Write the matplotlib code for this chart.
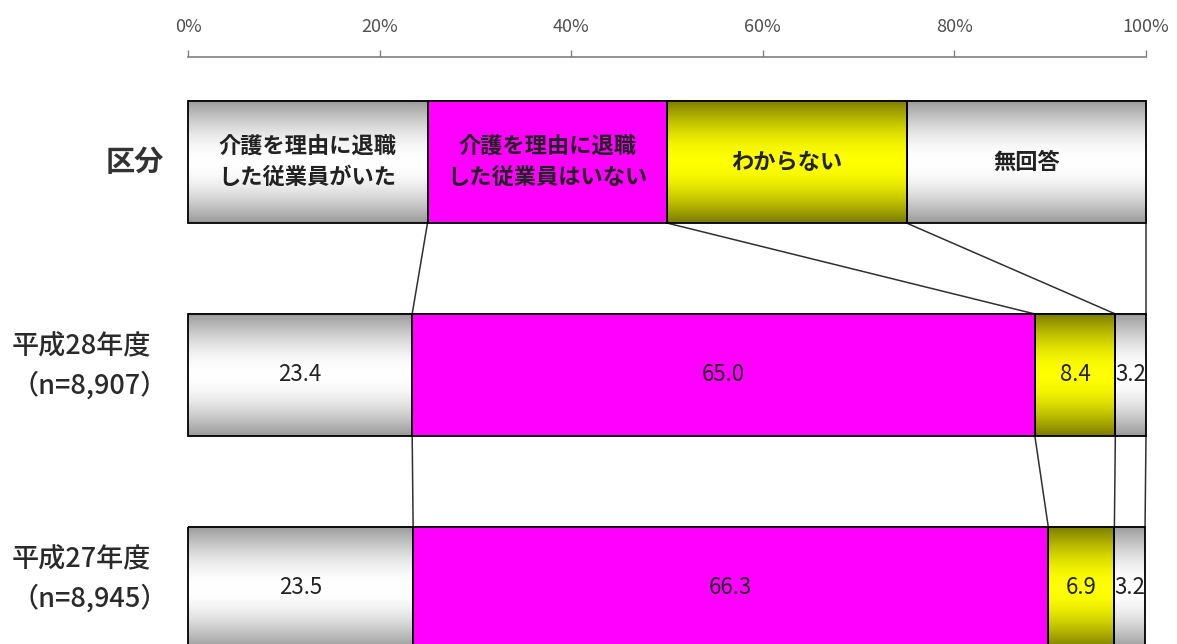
import numpy as np
import matplotlib.pyplot as plt
import matplotlib.transforms as mtransforms
from matplotlib.patches import Rectangle

plt.rcParams['font.family'] = ['Noto Sans CJK JP', 'DejaVu Sans']

# 回答区分（凡例用の行は4等分）
categories = ["介護を理由に退職\nした従業員がいた", "介護を理由に退職\nした従業員はいない", "わからない", "無回答"]
legend_row = [25, 25, 25, 25]

# 年度別の割合（%）
row_labels = ["区分", "平成28年度\n（n=8,907）", "平成27年度\n（n=8,945）"]
h28 = [23.4, 65.0, 8.4, 3.2]
h27 = [23.5, 66.3, 6.9, 3.2]
rows = [legend_row, h28, h27]

xticks = [0, 20, 40, 60, 80, 100]

# 各区分の塗り（上下が濃く中央が明るいグラデーション）
fills = [((0.60, 0.60, 0.60), (1.0, 1.0, 1.0)),
         ((1.0, 0.0, 1.0), (1.0, 0.0, 1.0)),
         ((0.48, 0.48, 0.0), (1.0, 1.0, 0.0)),
         ((0.60, 0.60, 0.60), (1.0, 1.0, 1.0))]

bar_h = 0.573

fig = plt.figure(figsize=(11.77, 6.44), dpi=100)
ax = fig.add_axes([188 / 1177, 0, (1146 - 188) / 1177, 1 - 57 / 644])


def gradient(dark, light, n=256):
    t = np.linspace(0, 1, n)
    p = np.sin(np.pi * t)[:, None]
    dark = np.array(dark)[None, :]
    light = np.array(light)[None, :]
    img = dark * (1 - p) + light * p
    return img[:, None, :]


for i, vals in enumerate(rows):
    left = 0
    for j, v in enumerate(vals):
        top, bottom = i - bar_h / 2, i + bar_h / 2
        ax.imshow(gradient(*fills[j]), extent=(left, left + v, bottom, top),
                  aspect='auto', interpolation='bilinear', zorder=1)
        ax.add_patch(Rectangle((left, top), v, bar_h, fill=False,
                               edgecolor='black', lw=1.3, zorder=3, clip_on=False))
        cx = left + v / 2
        if i == 0:
            ax.text(cx, i, categories[j], ha='center', va='center', fontsize=16,
                    fontweight='bold', color='#222222', linespacing=1.45, zorder=2)
        else:
            ax.text(cx, i, f"{v:.1f}", ha='center', va='center', fontsize=16,
                    color='#222222', zorder=2, clip_on=True)
        left += v

# 行間の区切り線（累積値をつなぐ）
for i in range(len(rows) - 1):
    c0 = np.cumsum(rows[i])
    c1 = np.cumsum(rows[i + 1])
    for a, b in zip(c0, c1):
        ax.plot([a, b], [i + bar_h / 2, i + 1 - bar_h / 2], color='#303030',
                lw=1.1, zorder=0.5, clip_on=False)

# 左側の行ラベル
trans = mtransforms.blended_transform_factory(fig.transFigure, ax.transData)
ax.text(135 / 1177, 0, row_labels[0], transform=trans, ha='center', va='center',
        fontsize=21, fontweight='bold', color='#333333', clip_on=False)
for i in (1, 2):
    ax.text(12 / 1177, i - 0.04, row_labels[i], transform=trans, ha='left',
            va='center', fontsize=19.5, fontweight='medium', color='#2a2a2a',
            linespacing=1.5, clip_on=False)

ax.set_xlim(0, 100)
ax.set_ylim(2.263, -0.493)
ax.set_xticks(xticks)
ax.set_xticklabels([f"{t}%" for t in xticks])
ax.set_yticks([])
ax.xaxis.set_ticks_position('top')
ax.tick_params(axis='x', top=True, bottom=False, labeltop=True, labelbottom=False,
               direction='out', length=5, width=1, color='#808080', pad=10,
               labelsize=13, labelcolor='#505050')
for side in ('left', 'right', 'bottom'):
    ax.spines[side].set_visible(False)
ax.spines['top'].set_color('#808080')
ax.spines['top'].set_linewidth(1.2)

fig.savefig("out.png", dpi=100)
